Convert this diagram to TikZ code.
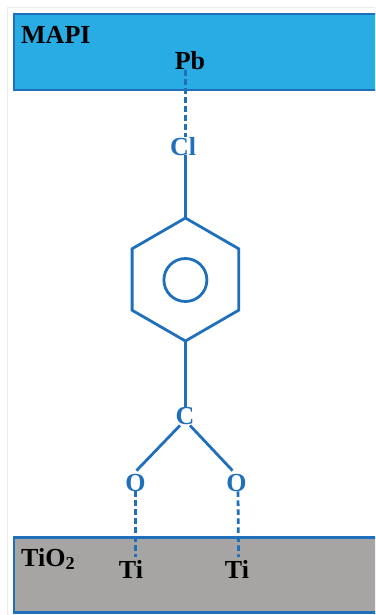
\documentclass[tikz,border=0pt]{standalone}
\usepackage{fontspec}
\setmainfont{Liberation Serif}
\usetikzlibrary{shapes.geometric,calc}
\definecolor{bondblue}{HTML}{1F6FBB}
\definecolor{mapiblue}{HTML}{29ABE3}
\definecolor{tiogray}{HTML}{A6A5A4}
\definecolor{framegray}{HTML}{EBEBEB}
\tikzset{
  x=1pt,y=-1pt,
  layer/.style={draw=bondblue,line width=2.2pt,anchor=north west,minimum width=375pt,inner sep=0pt,outer sep=0pt},
  atomblack/.style={font=\fontsize{26}{26}\selectfont\bfseries,text=black,inner sep=0pt},
  atomblue/.style={font=\fontsize{26}{26}\selectfont\bfseries,text=bondblue,inner sep=0pt},
  bond/.style={draw=bondblue,line width=2.8pt},
  weakbond/.style={draw=bondblue,line width=2.8pt,dash pattern=on 5.5pt off 3.5pt},
}
\begin{document}
\begin{tikzpicture}
\useasboundingbox (0,0) rectangle (375,615);
\clip (0,0) rectangle (375,615);
\fill[white] (0,0) rectangle (375,615);
\draw[framegray,line width=1pt] (7.5,615) -- (7.5,7.5) -- (375,7.5);
\node[layer,fill=mapiblue,minimum height=76pt] (mapi) at (14,14) {};
\node[layer,fill=tiogray,minimum height=75pt] (tio) at (14,537.5) {};
\node[atomblack,anchor=base west] (mapilabel) at (21,44) {MAPI};
\node[atomblack,anchor=base] (Pb) at (190,70) {Pb};
\node[atomblue,anchor=base] (Cl) at (183,155) {Cl};
\node[draw=bondblue,line width=2.8pt,regular polygon,regular polygon sides=6,shape border rotate=30,minimum size=123pt,inner sep=0pt,outer sep=0pt] (hex) at (185.4,279.5) {};
\node[draw=bondblue,line width=2.8pt,circle,minimum size=43pt,inner sep=0pt,outer sep=0pt] (ring) at (185.4,280) {};
\node[atomblue,anchor=base] (C) at (185,424) {C};
\node[atomblue,anchor=base] (O1) at (135.5,491) {O};
\node[atomblue,anchor=base] (O2) at (236.5,491) {O};
\node[atomblack,anchor=base] (Ti1) at (131,578) {Ti};
\node[atomblack,anchor=base] (Ti2) at (237,578) {Ti};
\node[atomblack,anchor=base west] (tiolabel) at (21,566) {TiO\textsubscript{2}};
\draw[weakbond] (Pb.south -| hex.center) -- (Cl.north -| hex.center);
\draw[bond] (Cl.south -| hex.center) -- (hex.north);
\draw[bond] (hex.south) -- (C.north -| hex.center);
\draw[bond] ($(C.south)+(-5,1)$) -- ($(O1.north)+(1,-3)$);
\draw[bond] ($(C.south)+(5,1)$) -- ($(O2.north)+(-4,-3)$);
\draw[weakbond] (O1.south) -- ($(O1.south |- Ti1.north)+(0,-3)$);
\draw[weakbond] ($(O2.south)+(1.5,0)$) -- ($(Ti2.north)+(1.5,-3)$);
\end{tikzpicture}
\end{document}
